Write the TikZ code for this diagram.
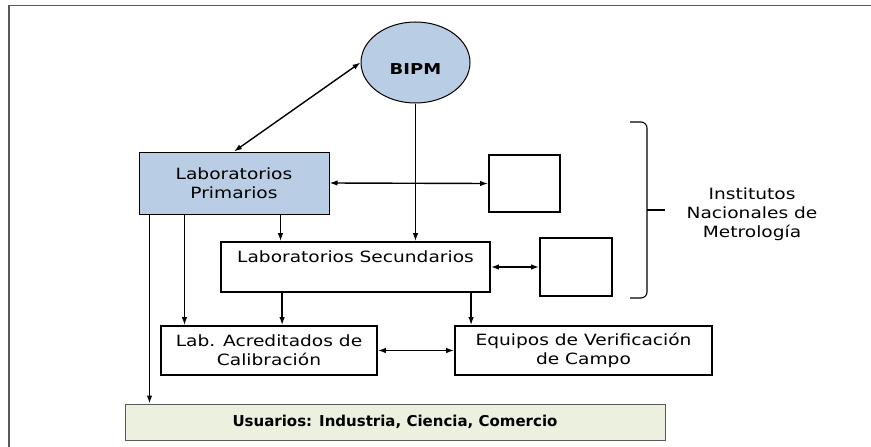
\documentclass[tikz,border=0pt]{standalone}
\usepackage{fontspec}
\setmainfont{DejaVu Sans}[FakeStretch=1.2]
\newfontfamily\usrfont{DejaVu Sans}
\usepackage{tikz}
\usetikzlibrary{arrows.meta,shapes.geometric,positioning}
\definecolor{azulclaro}{RGB}{185,205,229}
\definecolor{verdeclaro}{RGB}{235,241,222}
\definecolor{marco}{RGB}{90,90,90}
\tikzset{
  caja/.style={draw, line width=1.8pt, align=center, inner sep=0pt},
  flecha/.style={-{Latex[length=8pt,width=5.5pt]}, line width=1.4pt},
  dflecha/.style={{Latex[length=8pt,width=5.5pt]}-{Latex[length=8pt,width=5.5pt]}, line width=1.4pt}
}

\begin{document}
\begin{tikzpicture}[x=1pt, y=-1pt, font=\fontsize{15.5}{19}\selectfont]
      \useasboundingbox (0,0) rectangle (871,447);
      % marco
      \draw [marco, line width=1.3pt] (8, 5.5) -- (871, 5.5);
      \draw [marco, line width=1.3pt] (9, 5) -- (9, 447);
      % nodos
      \node [ellipse, draw, line width=1pt, fill=azulclaro, minimum width=109, minimum height=81,
        label={[yshift=-7pt, font=\fontsize{15}{18}\selectfont\bfseries]center:BIPM}] (bipm) at (415.5, 62.5) {};
      \node [caja, line width=1pt, fill=azulclaro, minimum width=190, minimum height=62] (prim) at (234, 183) {Laboratorios\\Primarios};
      \node [caja, minimum width=71, minimum height=57] (nmi1) at (524.5, 183.5) {};
      \node [caja, minimum width=269, minimum height=50,
        label={[yshift=-25pt]north:Laboratorios Secundarios}] (sec) at (355.5, 267) {};
      \node [caja, minimum width=72, minimum height=58] (nmi2) at (576, 267) {};
      \node [caja, minimum width=216, minimum height=49] (acr) at (269, 350.5) {Lab. Acreditados de\\Calibración};
      \node [caja, minimum width=257, minimum height=49] (equ) at (583.5, 350.5) {Equipos de Verificación\\de Campo};
      \node [caja, line width=1pt, draw=marco, fill=verdeclaro, minimum width=540, minimum height=36,
        font=\usrfont\fontsize{15}{18}\selectfont\bfseries] (usr) at (395, 422) {Usuarios: Industria, Ciencia, Comercio};
      \node [align=center] (inm) at (752, 214) {Institutos\\Nacionales de\\Metrología};
      % llave
      \draw [line width=1.1pt, rounded corners=6pt] (630, 122) -- (647, 122) -- (647, 298) -- (630, 298);
      \draw [line width=1.1pt] (647, 210) -- (665, 210);
      % conexiones
      \draw [dflecha] (bipm.west) -- (prim.north);
      \draw [flecha] (bipm.south) -- (bipm.south |- sec.north);
      \draw [dflecha] (prim.east) -- (nmi1.west);
      \draw [flecha] ([xshift=11pt]prim.south west) -- ([xshift=11pt]prim.south west |- usr.north);
      \draw [flecha] ([xshift=46pt]prim.south west) -- ([xshift=46pt]prim.south west |- acr.north);
      \draw [flecha] ([xshift=142pt]prim.south west) -- ([xshift=142pt]prim.south west |- sec.north);
      \draw [dflecha] (sec.east) -- (nmi2.west);
      \draw [flecha] ([xshift=62pt]sec.south west) -- ([xshift=62pt]sec.south west |- acr.north);
      \draw [flecha] ([xshift=251pt]sec.south west) -- ([xshift=251pt]sec.south west |- equ.north);
      \draw [dflecha] (acr.east) -- (equ.west);
\end{tikzpicture}
\end{document}
